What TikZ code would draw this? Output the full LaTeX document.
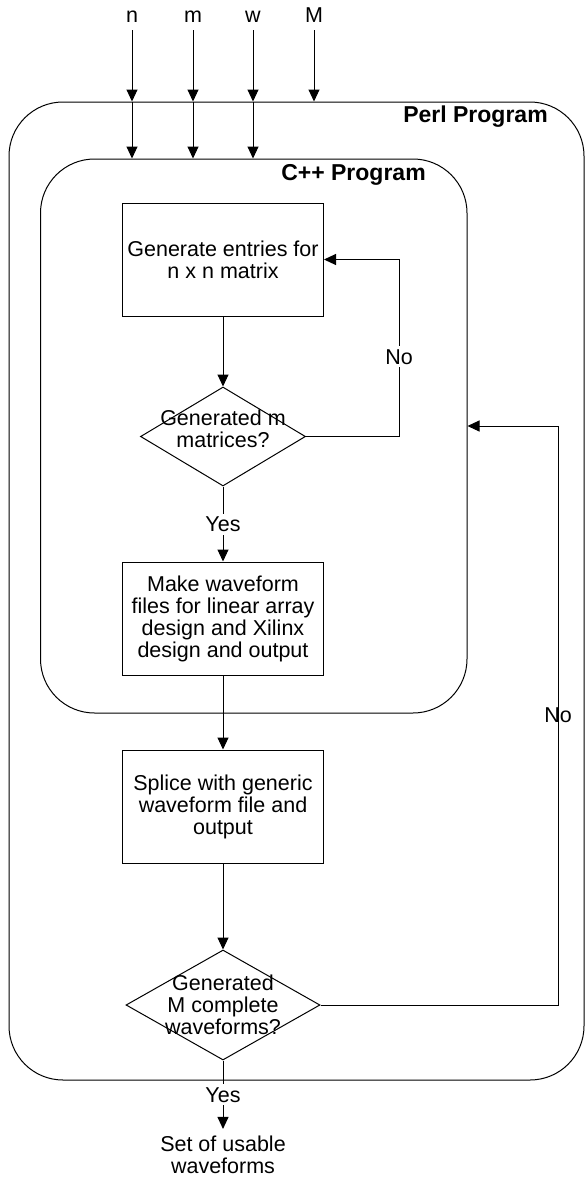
\documentclass[tikz,border=0pt]{standalone}
\usepackage{fontspec}
\setmainfont{Liberation Sans}
\usetikzlibrary{arrows.meta, positioning, shapes.geometric}

\begin{document}
\begin{tikzpicture}[
  x=0.5pt, y={(0pt,-0.5pt)},
  >={Triangle[length=6pt,width=5.5pt]},
  line width=0.5pt,
  every node/.style={align=center, font=\fontsize{10.75}{11}\selectfont},
  prog/.style={draw, rounded corners=27pt, inner sep=0pt},
  progname/.style={font=\bfseries\fontsize{11.5}{12}\selectfont},
  stepbox/.style={draw, minimum width=100.5pt, minimum height=56.5pt, inner sep=2pt},
  decision/.style={draw, diamond, inner sep=0pt},
  tag/.style={fill=white, inner sep=1.5pt}
]
\useasboundingbox (0,0) rectangle (585,1178);

\node[prog, minimum width=287.5pt, minimum height=489pt] (perl) at (296.5,591) {};
\node[prog, minimum width=213.25pt, minimum height=277pt] (cpp) at (253.75,436) {};
\node[progname] (perlname) at (475.5,117) {Perl Program};
\node[progname] (cppname) at (353.5,175) {C++ Program};

\foreach \v/\x in {n/132, m/193, w/253, M/314}
  \node[anchor=base] (in\v) at (\x,23) {\v};

\node[stepbox] (gen) at (223,259.5) {Generate entries for\\n x n matrix};
\node[decision, minimum width=82.5pt, minimum height=49.5pt,
  label={[yshift=4pt]center:Generated m\\matrices?}] (genm) at (223,436.5) {};
\node[stepbox] (wave) at (223,618.5) {Make waveform\\files for linear array\\design and Xilinx\\design and output};
\node[stepbox] (splice) at (223,806.5) {Splice with generic\\waveform file and\\output};
\node[decision, minimum width=97pt, minimum height=55pt,
  label={center:Generated\\M complete\\waveforms?}] (genM) at (223,1005) {};
\node (out) at (223,1155) {Set of usable\\waveforms};

\coordinate (loopa) at (399,0);
\coordinate (loopb) at (558,0);
\coordinate (backy) at (0,426);

\foreach \v in {n,m,w} {
  \draw[->] (in\v) -- (in\v |- perl.north);
  \draw[->] (in\v |- perl.north) -- (in\v |- cpp.north);
}
\draw[->] (inM) -- (inM |- perl.north);

\draw[->] (gen) -- (genm);
\draw[->] (genm) -- node[tag] {Yes} (wave);
\draw[->] (wave) -- (splice);
\draw[->] (splice) -- (genM);
\draw[->] (genM) -- node[tag] {Yes} (out);

\draw[->] (genm.east) -- (genm.east -| loopa) -- node[tag, pos=0.45] {No} (gen.east -| loopa) -- (gen.east);
\draw[->] (genM.east) -- (genM.east -| loopb) -- node[pos=0.5] {No} (loopb |- backy) -- (cpp.east |- backy);
\end{tikzpicture}
\end{document}
